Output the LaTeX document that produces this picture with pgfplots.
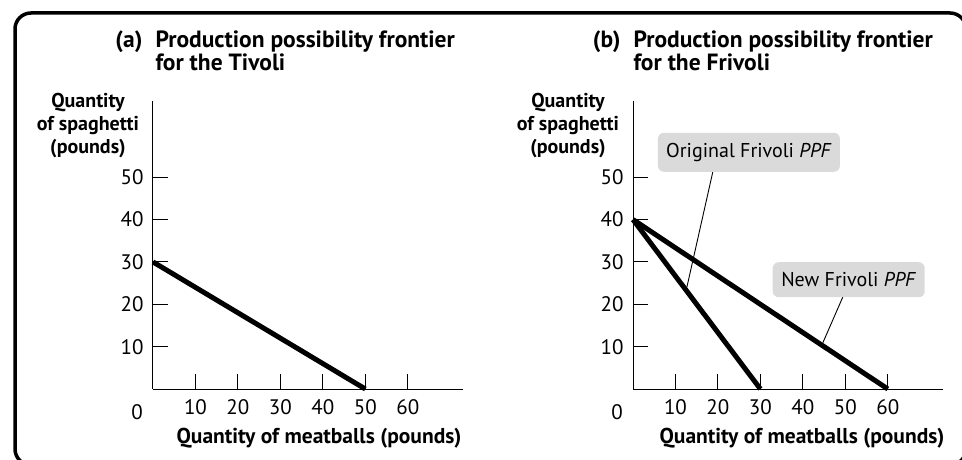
\documentclass[border=0pt]{standalone}
\usepackage{fontspec}
\setmainfont{PT Sans}
\usepackage{pgfplots}
\pgfplotsset{compat=1.18}
\definecolor{boxgray}{HTML}{DADADA}
\pgfplotsset{
  ppf/.style={
    scale only axis,
    width=310pt, height=288pt,
    xmin=0, xmax=73, ymin=0, ymax=68,
    axis lines=left,
    axis line style={-, line width=1pt},
    xtick={10,20,30,40,50,60},
    ytick={10,20,30,40,50},
    tick align=inside,
    major tick length=15pt,
    tick style={line width=1pt, black},
    /pgf/number format/assume math mode=true,
    ticklabel style={font=\fontsize{21}{24}\selectfont},
    xticklabel style={yshift=-7pt},
    yticklabel style={xshift=-6pt},
    clip=false,
  },
}
\begin{document}
\begin{tikzpicture}[x=1pt,y=1pt]
\useasboundingbox (0,0) rectangle (962,459);
\begin{scope}
\clip (0,0) rectangle (962,459);
\draw[line width=3.5pt, rounded corners=16pt] (15,-6) rectangle (966,446);
\end{scope}

% Panel (a)
\begin{axis}[ppf, at={(153pt,70pt)}, anchor=south west]
\addplot[line width=5pt, black] coordinates {(0,30) (50,0)};
\node[font=\fontsize{21}{24}\selectfont] at (axis cs:0,0) [xshift=-16pt, yshift=-23pt] {0};
\node[anchor=base east, font=\bfseries\fontsize{21.5}{26}\selectfont] at (rel axis cs:1,0) [xshift=2pt, yshift=-54pt] {Quantity of meatballs (pounds)};
\node[align=center, font=\bfseries\fontsize{20}{23}\selectfont] at (rel axis cs:0,1) [xshift=-65pt, yshift=-25pt] {Quantity\\of spaghetti\\(pounds)};
\node[anchor=base west, align=left, font=\bfseries\fontsize{23.5}{23}\selectfont] at (rel axis cs:0,1) [xshift=-1pt, yshift=31pt] {Production possibility frontier\\for the Tivoli};
\node[anchor=base east, font=\bfseries\fontsize{23.5}{23}\selectfont] at (rel axis cs:0,1) [xshift=-7pt, yshift=54pt] {(a)};
\end{axis}

% Panel (b)
\begin{axis}[ppf, at={(633pt,70pt)}, anchor=south west]
\addplot[line width=5pt, black] coordinates {(0,40) (30,0)};
\addplot[line width=5pt, black] coordinates {(0,40) (60,0)};
\draw[line width=0.9pt] (axis cs:18.8,51.3) -- (axis cs:12.7,24.1);
\draw[line width=0.9pt] (axis cs:49.4,21.7) -- (axis cs:44.7,10.9);
\node[fill=boxgray, rounded corners=6pt, minimum width=182pt, minimum height=39pt, inner sep=0pt, font=\fontsize{20}{22}\selectfont] at (axis cs:27.3,55.9) {Original Frivoli \textit{PPF}};
\node[fill=boxgray, rounded corners=6pt, minimum width=152pt, minimum height=35pt, inner sep=0pt, font=\fontsize{20}{22}\selectfont] at (axis cs:50.8,25.8) {New Frivoli \textit{PPF}};
\node[font=\fontsize{21}{24}\selectfont] at (axis cs:0,0) [xshift=-16pt, yshift=-23pt] {0};
\node[anchor=base east, font=\bfseries\fontsize{21.5}{26}\selectfont] at (rel axis cs:1,0) [xshift=5pt, yshift=-54pt] {Quantity of meatballs (pounds)};
\node[align=center, font=\bfseries\fontsize{20}{23}\selectfont] at (rel axis cs:0,1) [xshift=-65pt, yshift=-25pt] {Quantity\\of spaghetti\\(pounds)};
\node[anchor=base west, align=left, font=\bfseries\fontsize{23.5}{23}\selectfont] at (rel axis cs:0,1) [xshift=-3pt, yshift=31pt] {Production possibility frontier\\for the Frivoli};
\node[anchor=base east, font=\bfseries\fontsize{23.5}{23}\selectfont] at (rel axis cs:0,1) [xshift=-9pt, yshift=54pt] {(b)};
\end{axis}
\end{tikzpicture}
\end{document}
